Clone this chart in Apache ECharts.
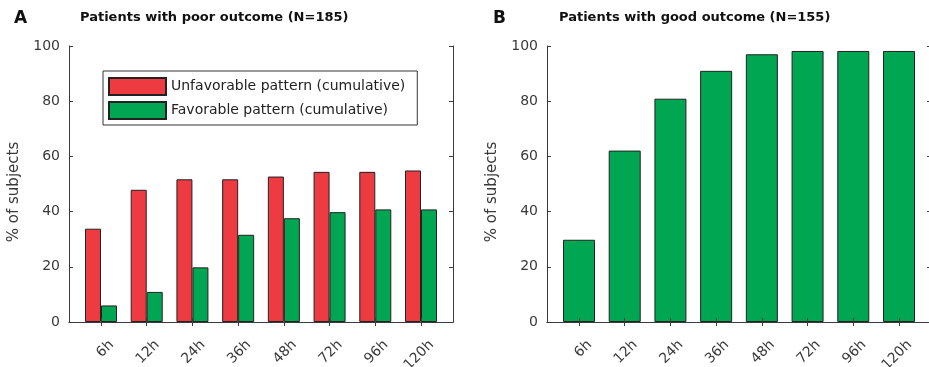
<!DOCTYPE html>
<html>
<head>
<meta charset="utf-8">
<script src="https://cdn.jsdelivr.net/npm/echarts@6/dist/echarts.min.js"></script>
<style>
  html, body { margin: 0; padding: 0; background: #fff; }
  #chart { width: 929px; height: 367px; }
</style>
</head>
<body>
<div id="chart"></div>
<script>
// Time points after onset
const categories = ['6h', '12h', '24h', '36h', '48h', '72h', '96h', '120h'];
// Panel A: patients with poor outcome (%)
const poorUnfavorable = [33.8, 47.9, 51.7, 51.7, 52.7, 54.4, 54.4, 54.9];
const poorFavorable = [6.0, 10.9, 19.8, 31.6, 37.6, 39.8, 40.8, 40.8];
// Panel B: patients with good outcome (%)
const goodFavorable = [29.8, 62.1, 80.9, 91.0, 97.0, 98.2, 98.2, 98.2];
const panelLetters = ['A', 'B'];
const panelTitles = ['Patients with poor outcome (N=185)', 'Patients with good outcome (N=155)'];
const seriesNames = ['Unfavorable pattern (cumulative)', 'Favorable pattern (cumulative)'];
const yAxisTitle = '% of subjects';

const FONT = 'DejaVu Sans';
const AXIS_COLOR = '#3a3a3a';
const TEXT_COLOR = '#3a3a3a';
const RED = '#EE3A41';
const GREEN = '#00A651';
const EDGE = '#222';

const positions = categories.map((_, i) => i + 1);
const toPairs = vals => vals.map((v, i) => [positions[i], v]);

// Fixed plot boxes; labels may extend to the canvas edge
const grids = [
  { left: 69, top: 46, width: 384, height: 276 },
  { left: 547, top: 46, width: 384, height: 276 }
];

function bottomAxis(g) {
  return {
    type: 'value', gridIndex: g, position: 'bottom', min: 0.3, max: 8.7, z: 5,
    splitLine: { show: false },
    axisLine: { show: true, lineStyle: { color: AXIS_COLOR, width: 1 } },
    axisTick: { show: true, inside: true, length: 4, customValues: positions,
                lineStyle: { color: AXIS_COLOR } },
    axisLabel: {
      customValues: positions, rotate: 45, margin: 10,
      verticalAlign: 'top', padding: [8, 0, 0, 0],
      fontFamily: FONT, fontSize: 14, color: TEXT_COLOR,
      formatter: v => categories[Math.round(v) - 1]
    }
  };
}
function topAxis(g) {
  return {
    type: 'value', gridIndex: g, position: 'top', min: 0.3, max: 8.7, z: 5,
    splitLine: { show: false },
    axisLine: { show: true, lineStyle: { color: AXIS_COLOR, width: 1 } },
    axisTick: { show: true, inside: true, length: 4, customValues: positions,
                lineStyle: { color: AXIS_COLOR } },
    axisLabel: { show: false }
  };
}
function leftAxis(g) {
  return {
    type: 'value', gridIndex: g, position: 'left', min: 0, max: 100, interval: 20, z: 5,
    splitLine: { show: false },
    axisLine: { show: true, lineStyle: { color: AXIS_COLOR, width: 1 } },
    axisTick: { show: true, inside: true, length: 4, lineStyle: { color: AXIS_COLOR } },
    axisLabel: { margin: 9, fontFamily: FONT, fontSize: 14, color: TEXT_COLOR },
    name: yAxisTitle, nameLocation: 'middle', nameGap: 47, nameRotate: 90,
    nameTextStyle: { fontFamily: FONT, fontSize: 15, color: TEXT_COLOR, padding: [0, 16, 0, 0] }
  };
}
function rightAxis(g) {
  return {
    type: 'value', gridIndex: g, position: 'right', min: 0, max: 100, interval: 20, z: 5,
    splitLine: { show: false },
    axisLine: { show: true, lineStyle: { color: AXIS_COLOR, width: 1 } },
    axisTick: { show: true, inside: true, length: 4, lineStyle: { color: AXIS_COLOR } },
    axisLabel: { show: false }
  };
}

const titleStyle = { fontFamily: FONT, fontWeight: 'bold', fontSize: 13, color: '#111' };
const letterStyle = { fontFamily: FONT, fontWeight: 'bold', fontSize: 17, color: '#111' };

const option = {
  animation: false,
  backgroundColor: '#fff',
  title: [
    { text: panelLetters[0], left: 14, top: 10, padding: 0, textStyle: letterStyle },
    { text: panelTitles[0], left: 80, top: 11, padding: 0, textStyle: titleStyle },
    { text: panelLetters[1], left: 493, top: 10, padding: 0, textStyle: letterStyle },
    { text: panelTitles[1], left: 559, top: 11, padding: 0, textStyle: titleStyle }
  ],
  legend: {
    data: seriesNames,
    orient: 'vertical', left: 103, top: 71,
    padding: [6, 12, 5, 5], itemGap: 5, itemWidth: 57, itemHeight: 17,
    backgroundColor: '#fff', borderColor: '#333', borderWidth: 1, borderRadius: 0,
    icon: 'rect', selectedMode: false,
    textStyle: { fontFamily: FONT, fontSize: 14, color: '#222' }
  },
  grid: grids.map(g => Object.assign({ show: false, containLabel: false, outerBoundsMode: 'none' }, g)),
  xAxis: [bottomAxis(0), topAxis(0), bottomAxis(1), topAxis(1)],
  yAxis: [leftAxis(0), rightAxis(0), leftAxis(1), rightAxis(1)],
  series: [
    {
      name: seriesNames[0], type: 'bar', xAxisIndex: 0, yAxisIndex: 0,
      barWidth: 16, barGap: '0%',
      itemStyle: { color: RED, borderColor: EDGE, borderWidth: 1 },
      data: toPairs(poorUnfavorable)
    },
    {
      name: seriesNames[1], type: 'bar', xAxisIndex: 0, yAxisIndex: 0,
      barWidth: 16, barGap: '0%',
      itemStyle: { color: GREEN, borderColor: EDGE, borderWidth: 1 },
      data: toPairs(poorFavorable)
    },
    {
      name: 'Good outcome', type: 'bar', xAxisIndex: 2, yAxisIndex: 2,
      barWidth: 32,
      itemStyle: { color: GREEN, borderColor: EDGE, borderWidth: 1 },
      data: toPairs(goodFavorable)
    }
  ]
};

const chart = echarts.init(document.getElementById('chart'), null, { renderer: 'canvas' });
chart.setOption(option);
</script>
</body>
</html>
